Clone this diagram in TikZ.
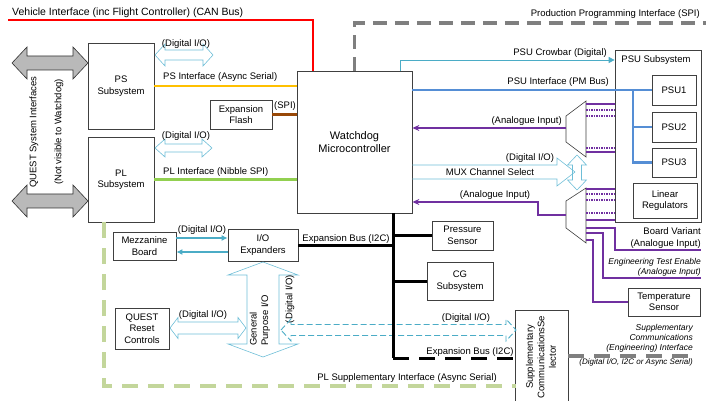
\documentclass[tikz,border=0pt]{standalone}
\usepackage{fontspec}
\setmainfont{Liberation Sans}
\usepackage{tikz}
\usetikzlibrary{arrows.meta, positioning}
\definecolor{boxgray}{RGB}{64,64,64}
\definecolor{canred}{RGB}{255,0,0}
\definecolor{asyncorange}{RGB}{255,192,0}
\definecolor{spibrown}{RGB}{152,72,7}
\definecolor{nibblegreen}{RGB}{146,208,80}
\definecolor{suppgreen}{RGB}{195,214,155}
\definecolor{pmblue}{RGB}{85,142,213}
\definecolor{anapurple}{RGB}{112,48,160}
\definecolor{iocyan}{RGB}{110,190,215}
\definecolor{ioteal}{RGB}{75,172,198}
\definecolor{progray}{RGB}{127,127,127}

% hollow double arrows: style, x1, x2, y, shaft half, head half, head length
\newcommand{\hdblarrow}[7]{%
  \draw[#1] (#2,#4) -- (#2+#7,#4-#6) -- (#2+#7,#4-#5) -- (#3-#7,#4-#5) --
    (#3-#7,#4-#6) -- (#3,#4) -- (#3-#7,#4+#6) -- (#3-#7,#4+#5) --
    (#2+#7,#4+#5) -- (#2+#7,#4+#6) -- cycle;}
% same, vertical: style, x, y1, y2, shaft half, head half, head length
\newcommand{\vdblarrow}[7]{%
  \draw[#1] (#2,#3) -- (#2+#6,#3+#7) -- (#2+#5,#3+#7) -- (#2+#5,#4-#7) --
    (#2+#6,#4-#7) -- (#2,#4) -- (#2-#6,#4-#7) -- (#2-#5,#4-#7) --
    (#2-#5,#3+#7) -- (#2-#6,#3+#7) -- cycle;}

\begin{document}
\begin{tikzpicture}[x=1pt, y=-1pt,
    box/.style={draw=boxgray, line width=0.7pt, fill=white, align=center,
                inner sep=1pt, font=\fontsize{9.5}{11.5}\selectfont},
    lbl/.style={inner sep=1pt, font=\fontsize{9.5}{11.5}\selectfont},
    note/.style={inner sep=1pt, align=right, font=\fontsize{8.5}{10}\selectfont\itshape},
    hollow/.style={draw=iocyan, line width=0.6pt},
    bigarrow/.style={draw=black!80, fill=gray!55, line width=0.6pt},
    ana/.style={draw=anapurple, line width=1.2pt},
    anadot/.style={ana, dash pattern=on 1.5pt off 1pt},
    bus/.style={draw=black, line width=3pt}]
  \useasboundingbox (0,0) rectangle (710,401);

  % QUEST system interfaces (left)
  \hdblarrow{bigarrow}{12}{88}{63}{7}{16}{15}
  \hdblarrow{bigarrow}{12}{88}{201}{7}{16}{15}
  \node[lbl, rotate=90] (qsi) at (34,132) {QUEST System Interfaces};
  \node[lbl, rotate=90] (qnv) at (59,132) {(Not visible to Watchdog)};

  % Boxes
  \node[box, minimum width=115, minimum height=142,
        font=\fontsize{11}{13}\selectfont] (wd) at (354.5,142) {Watchdog\\Microcontroller};
  \node[box, minimum width=66, minimum height=86] (ps) at (121,86) {PS\\Subsystem};
  \node[box, minimum width=66, minimum height=85] (pl) at (121,179.5) {PL\\Subsystem};
  \node[box, minimum width=62, minimum height=29] (flash) at (241,114.5) {Expansion\\Flash};
  \node[box, minimum width=63, minimum height=28] (mezz) at (144.5,246) {Mezzanine\\Board};
  \node[box, minimum width=70, minimum height=32] (ioexp) at (263,245) {I/O\\Expanders};
  \node[box, minimum width=61, minimum height=29] (press) at (462.5,235.5) {Pressure\\Sensor};
  \node[box, minimum width=66, minimum height=38] (cg) at (460,281) {CG\\Subsystem};
  \node[box, minimum width=54, minimum height=41] (qrst) at (142,328.5) {QUEST\\Reset\\Controls};
  \node[box, minimum width=86, minimum height=172] (psu) at (658,136) {};
  \node[lbl] (psulbl) at (656,60) {PSU Subsystem};
  \node[box, minimum width=44, minimum height=30] (psu1) at (674,90) {PSU1};
  \node[box, minimum width=44, minimum height=30] (psu2) at (674,127) {PSU2};
  \node[box, minimum width=44, minimum height=29] (psu3) at (674,162.5) {PSU3};
  \node[box, minimum width=64, minimum height=35] (linreg) at (665,200.5) {Linear\\Regulators};
  \node[box, minimum width=72, minimum height=28] (temp) at (664,302) {Temperature\\Sensor};
  \node[box, draw=none, fill=none, minimum width=52, minimum height=90] (supp) at (542,356) {};
  \draw[draw=boxgray, line width=0.7pt] (supp.south west) |- (supp.north east) -- (supp.south east);
  \node[lbl, rotate=90, align=center] (supptxt) at (541,357)
    {Supplementary\\CommunicationsSe\\lector};

  % Vehicle interface (CAN)
  \coordinate (canstart) at (8,20);
  \draw[canred, line width=2.5pt] (canstart) -| (wd.north west -| 313,0);
  \node[lbl, anchor=west, font=\fontsize{10.5}{12}\selectfont] (canlbl) at (11,12.5)
    {Vehicle Interface (inc Flight Controller) (CAN Bus)};

  % Production programming interface
  \coordinate (prgend) at (706,23);
  \draw[progray, line width=3.5pt, dash pattern=on 14pt off 8pt] (wd.north) |- (prgend);
  \node[lbl, anchor=east] (prglbl) at (701,14) {Production Programming Interface (SPI)};

  % PS / PL side
  \hdblarrow{hollow}{155}{213}{55}{5}{11}{10}
  \node[lbl] (psio) at (186,44) {(Digital I/O)};
  \draw[asyncorange, line width=2.5pt] (ps.east) -- (ps.east -| wd.west);
  \node[lbl, anchor=west] (pslbl) at (162,77) {PS Interface (Async Serial)};
  \draw[spibrown, line width=2.5pt] (flash.east) -- (flash.east -| wd.west);
  \node[lbl] (spilbl) at (285,106) {(SPI)};
  \hdblarrow{hollow}{155}{212}{148}{4}{9}{10}
  \node[lbl] (plio) at (186,136) {(Digital I/O)};
  \draw[nibblegreen, line width=2.5pt] (pl.east) -- (pl.east -| wd.west);
  \node[lbl, anchor=west] (pllbl) at (162,172) {PL Interface (Nibble SPI)};

  % PL supplementary interface
  \draw[suppgreen, line width=3.5pt, dash pattern=on 16pt off 10pt]
    (pl.south -| 104,0) |- (supp.west |- 0,386);
  \node[lbl, anchor=east] (plsuplbl) at (498,378) {PL Supplementary Interface (Async Serial)};

  % Mezzanine <-> I/O expanders
  \draw[ioteal, line width=2pt, -{Latex[length=6pt,width=6pt]}] (mezz.east |- 0,238) -- (ioexp.west |- 0,238);
  \draw[ioteal, line width=2pt, -{Latex[length=6pt,width=6pt]}] (ioexp.west |- 0,252) -- (mezz.east |- 0,252);
  \node[lbl] (mezzio) at (202,230) {(Digital I/O)};

  % General purpose I/O
  \vdblarrow{hollow}{263}{262}{357}{16}{35}{13}
  \node[lbl, rotate=90, anchor=west, align=left] (gpio) at (260,347) {General\\Purpose I/O};
  \node[lbl, rotate=90] (gpdig) at (290,299) {(Digital I/O)};
  \hdblarrow{hollow}{170}{246}{328}{6}{10.5}{8}
  \node[lbl] (qrstio) at (203,315) {(Digital I/O)};
  \hdblarrow{draw=ioteal, line width=0.9pt, dash pattern=on 6pt off 3pt}{281}{516}{330}{5.5}{11}{10}
  \node[lbl] (suppio) at (466,318) {(Digital I/O)};

  % Expansion bus (I2C)
  \coordinate (busbot) at (393,358);
  \draw[bus] (wd.south -| busbot) -- (busbot);
  \draw[bus] (ioexp.east) -- (ioexp.east -| busbot);
  \draw[bus] (press.west -| busbot) -- (press.west);
  \draw[bus] (cg.west -| busbot) -- (cg.west);
  \draw[bus, dash pattern=on 16pt off 10pt] (busbot) -- (busbot -| supp.west);
  \node[lbl] (buslbl) at (346,239) {Expansion Bus (I2C)};
  \node[lbl] (buslbl2) at (470,352) {Expansion Bus (I2C)};

  % PSU crowbar and PM bus
  \draw[ioteal, line width=0.8pt, -{Triangle[length=6pt,width=6pt]}]
    (wd.north -| 400,0) |- (psu.west |- 0,60);
  \node[lbl, anchor=east] (crowlbl) at (608,53) {PSU Crowbar (Digital)};
  \coordinate (pmtap) at (633,90);
  \draw[pmblue, line width=2.5pt] (wd.east |- pmtap) -- (psu1.west);
  \draw[pmblue, line width=2.5pt] (pmtap) |- (psu2.west);
  \draw[pmblue, line width=2.5pt] (pmtap) |- (psu3.west);
  \node[lbl, anchor=east] (pmlbl) at (610,82) {PSU Interface (PM Bus)};

  % Analogue multiplexers
  \draw[draw=boxgray, line width=0.6pt, fill=white] (566,116) -- (586,101) -- (586,157) -- (566,142) -- cycle;
  \draw[draw=boxgray, line width=0.6pt, fill=white] (566,201) -- (586,188) -- (586,243) -- (566,228) -- cycle;
  \coordinate (mux1in) at (566,128);
  \coordinate (mux2in) at (566,215);
  \draw[ana, -{Stealth[length=7pt,width=6pt]}] (mux1in) -- (mux1in -| wd.east);
  \node[lbl, anchor=east] (ana1lbl) at (563,121) {(Analogue Input)};
  \draw[ana, {Stealth[length=7pt,width=6pt]}-] (wd.east |- 0,202) -| (538,215) -- (mux2in);
  \node[lbl] (ana2lbl) at (495,195) {(Analogue Input)};
  \foreach \y in {104,152,189,220}
    \draw[ana] (586,\y) -- (psu.west |- 0,\y);
  \foreach \y in {110,116,148,194,200,213}
    \draw[anadot] (586,\y) -- (psu.west |- 0,\y);

  % MUX channel select
  \draw[hollow] (wd.east |- 0,165) -- (557,165) -- (557,158) -- (575,172) -- (557,186) -- (557,179) -- (wd.east |- 0,179);
  \node[lbl] (muxsel) at (490,172) {MUX Channel Select};
  \node[lbl] (muxio) at (530,158) {(Digital I/O)};
  \vdblarrow{hollow}{577}{155}{190}{4.5}{9.5}{10}

  % Board variant, test enable, temperature
  \coordinate (bvend) at (701,250);
  \coordinate (teend) at (701,278);
  \draw[ana] (586,228) -| (615,250) -- (bvend);
  \draw[ana] (586,233) -| (603,278) -- (teend);
  \draw[ana] (586,240) -| (593,290) |- (temp.west);
  \node[lbl, anchor=east, align=right, font=\fontsize{9.5}{12}\selectfont] (bvlbl) at (702,238)
    {Board Variant\\(Analogue Input)};
  \node[note, anchor=east] (telbl) at (702,267.5) {Engineering Test Enable\\(Analogue Input)};

  % Supplementary communications (engineering) interface
  \coordinate (suppend) at (692,356);
  \draw[progray, line width=3.5pt, dash pattern=on 16pt off 10pt] (supp.east) -- (suppend);
  \node[note, anchor=south east] (supplbl) at (694,353)
    {Supplementary\\Communications\\(Engineering) Interface};
  \node[note, anchor=north east, font=\fontsize{8}{9}\selectfont\itshape] (supplbl2) at (694,358)
    {(Digital I/O, I2C or Async Serial)};
\end{tikzpicture}
\end{document}
